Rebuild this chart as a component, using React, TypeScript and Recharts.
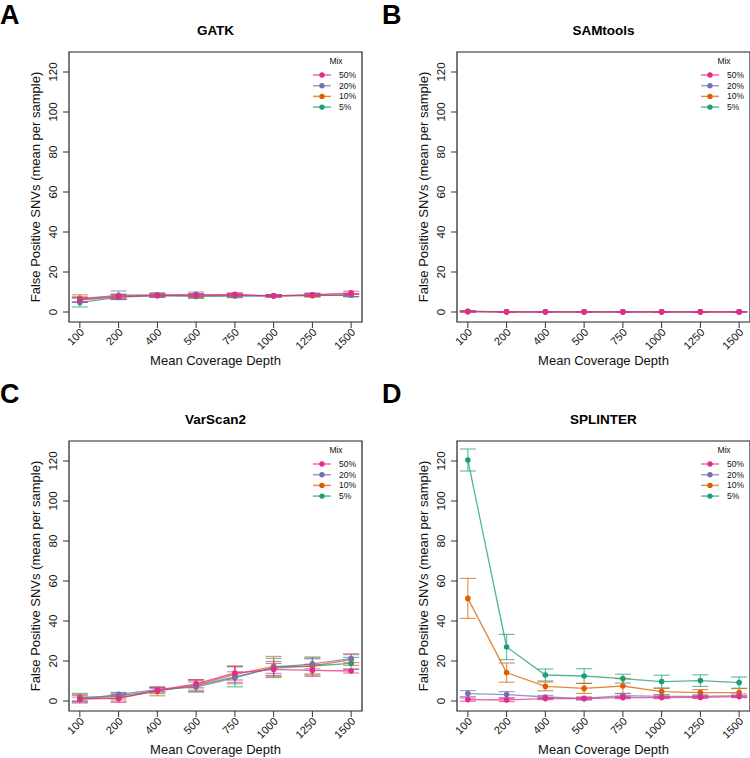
import React from "react";
import {
  ErrorBar,
  Legend,
  Line,
  LineChart,
  ReferenceArea,
  XAxis,
  YAxis,
} from "recharts";

// coverage depths on the x axis
const depths = ["100", "200", "400", "500", "750", "1000", "1250", "1500"];
const yTicks = [0, 20, 40, 60, 80, 100, 120];

// GATK
const gatk50 = [6.0, 7.6, 8.3, 8.3, 8.8, 8.1, 8.6, 9.6];
const gatk20 = [6.3, 8.4, 8.6, 8.8, 8.3, 8.1, 8.6, 8.4];
const gatk10 = [6.8, 8.0, 8.3, 8.1, 8.3, 8.1, 8.2, 8.4];
const gatk5 = [4.7, 7.4, 8.2, 7.8, 8.0, 8.1, 8.3, 8.4];
const gatk50Err = [1.2, 1.0, 0.8, 0.9, 0.8, 0.6, 0.7, 0.8];
const gatk20Err = [1.3, 2.1, 1.0, 1.2, 0.9, 0.6, 0.8, 0.7];
const gatk10Err = [1.8, 1.0, 0.8, 0.9, 0.8, 0.6, 0.7, 0.7];
const gatk5Err = [2.2, 1.2, 0.9, 1.0, 0.8, 0.6, 0.7, 0.7];

// SAMtools
const sam50 = [0.2, 0.1, 0.1, 0.1, 0.1, 0.1, 0.1, 0.1];
const sam20 = [0.4, 0.1, 0.1, 0.1, 0.1, 0.1, 0.1, 0.1];
const sam10 = [0.2, 0.1, 0.1, 0.1, 0.1, 0.1, 0.1, 0.1];
const sam5 = [0.3, 0.1, 0.1, 0.1, 0.1, 0.1, 0.1, 0.1];
const sam50Err = [0.2, 0.1, 0.1, 0.1, 0.1, 0.1, 0.1, 0.1];
const sam20Err = [0.3, 0.1, 0.1, 0.1, 0.1, 0.1, 0.1, 0.1];
const sam10Err = [0.2, 0.1, 0.1, 0.1, 0.1, 0.1, 0.1, 0.1];
const sam5Err = [0.2, 0.1, 0.1, 0.1, 0.1, 0.1, 0.1, 0.1];

// VarScan2
const vs50 = [1.0, 1.3, 5.4, 8.6, 14.0, 15.8, 15.3, 15.0];
const vs20 = [0.7, 3.3, 5.7, 7.0, 11.6, 16.8, 18.6, 21.2];
const vs10 = [1.5, 1.5, 4.9, 7.9, 13.3, 17.3, 17.5, 20.7];
const vs5 = [1.8, 2.5, 5.2, 7.7, 12.1, 16.5, 17.5, 18.8];
const vs50Err = [2.0, 2.0, 1.0, 2.0, 3.5, 3.0, 3.0, 1.0];
const vs20Err = [1.2, 1.0, 1.0, 2.5, 3.0, 3.0, 2.5, 2.0];
const vs10Err = [1.5, 1.5, 2.3, 2.5, 4.0, 5.0, 4.0, 2.9];
const vs5Err = [2.0, 1.5, 1.5, 3.0, 5.0, 4.8, 4.5, 3.0];

// SPLINTER
const spl50 = [0.7, 0.5, 1.2, 1.2, 1.7, 1.7, 1.8, 2.2];
const spl20 = [3.7, 3.2, 2.0, 1.3, 2.7, 2.3, 2.3, 2.7];
const spl10 = [51.3, 14.2, 7.3, 6.3, 7.5, 4.7, 4.2, 4.2];
const spl5 = [120.5, 27.0, 13.0, 12.5, 11.2, 9.7, 10.2, 9.2];
const spl50Err = [0.8, 0.8, 0.5, 0.5, 0.5, 0.5, 0.5, 0.5];
const spl20Err = [1.5, 1.5, 0.8, 0.8, 1.0, 0.8, 0.8, 0.8];
const spl10Err = [10.0, 4.8, 2.2, 2.5, 3.7, 1.6, 1.5, 2.0];
const spl5Err = [5.5, 6.3, 3.0, 3.7, 2.2, 3.2, 2.9, 2.8];

// legend order (top to bottom); drawn in reverse so pink ends up on top
const mixes = [
  { key: "m50", label: "50%", color: "#E7298A" },
  { key: "m20", label: "20%", color: "#7570B3" },
  { key: "m10", label: "10%", color: "#D95F02" },
  { key: "m5", label: "5%", color: "#1B9E77" },
];

const FONT = '"Liberation Sans", Arial, Helvetica, sans-serif';
const PANEL_W = 388;
const PANEL_H = 389;
const PLOT_TOP = 52;
const PLOT_BOTTOM = 322;
const PLOT_LEFT = 69;
const PLOT_RIGHT = 362;

function buildRows(vals: number[][], errs: number[][]) {
  return depths.map((_, i) => ({
    x: i + 1,
    m50: vals[0][i],
    m20: vals[1][i],
    m10: vals[2][i],
    m5: vals[3][i],
    m50Err: errs[0][i],
    m20Err: errs[1][i],
    m10Err: errs[2][i],
    m5Err: errs[3][i],
  }));
}

const panels = [
  {
    letter: "A",
    title: "GATK",
    left: 0,
    top: 0,
    letterTop: 1.5,
    data: buildRows([gatk50, gatk20, gatk10, gatk5], [gatk50Err, gatk20Err, gatk10Err, gatk5Err]),
  },
  {
    letter: "B",
    title: "SAMtools",
    left: 388,
    top: 0,
    letterTop: 1.5,
    data: buildRows([sam50, sam20, sam10, sam5], [sam50Err, sam20Err, sam10Err, sam5Err]),
  },
  {
    letter: "C",
    title: "VarScan2",
    left: 0,
    top: 389,
    letterTop: -8,
    data: buildRows([vs50, vs20, vs10, vs5], [vs50Err, vs20Err, vs10Err, vs5Err]),
  },
  {
    letter: "D",
    title: "SPLINTER",
    left: 388,
    top: 389,
    letterTop: -8,
    data: buildRows([spl50, spl20, spl10, spl5], [spl50Err, spl20Err, spl10Err, spl5Err]),
  },
];

const XTick = (props: any) => {
  const { x, payload } = props;
  const ax = x + 5;
  const ay = PLOT_BOTTOM + 11;
  return (
    <text
      x={ax}
      y={ay}
      transform={`rotate(-45, ${ax}, ${ay})`}
      textAnchor="end"
      fontSize={11}
      fontFamily={FONT}
      fill="#111"
    >
      {depths[payload.value - 1]}
    </text>
  );
};

const YTick = (props: any) => {
  const { y, payload } = props;
  const ax = 56.5;
  return (
    <text
      x={ax}
      y={y}
      transform={`rotate(-90, ${ax}, ${y})`}
      textAnchor="middle"
      fontSize={11.5}
      fontFamily={FONT}
      fill="#111"
    >
      {payload.value}
    </text>
  );
};

function MixLegend() {
  const rowY = [23, 33.7, 44.4, 55.1];
  return (
    <svg width={66} height={64} style={{ display: "block" }}>
      <text x={36} y={12} textAnchor="middle" fontSize={8.5} fontFamily={FONT} fill="#111">
        Mix
      </text>
      {mixes.map((m, i) => (
        <g key={m.key}>
          <line x1={13} x2={31} y1={rowY[i]} y2={rowY[i]} stroke={m.color} strokeOpacity={0.7} strokeWidth={1.5} />
          <circle cx={22} cy={rowY[i]} r={2.7} fill={m.color} />
          <text x={39} y={rowY[i] + 3} fontSize={8.5} fontFamily={FONT} fill="#111">
            {m.label}
          </text>
        </g>
      ))}
    </svg>
  );
}

function Panel({ panel }: { panel: (typeof panels)[number] }) {
  return (
    <div style={{ position: "absolute", left: panel.left, top: panel.top, width: PANEL_W, height: PANEL_H }}>
      <div
        style={{
          position: "absolute",
          left: panel.left ? -6 : 0,
          top: panel.letterTop,
          fontSize: 27,
          lineHeight: 1,
          fontWeight: 700,
          fontFamily: FONT,
        }}
      >
        {panel.letter}
      </div>
      <div
        style={{
          position: "absolute",
          left: PLOT_LEFT,
          width: PLOT_RIGHT - PLOT_LEFT,
          top: 24,
          textAlign: "center",
          fontSize: 13.5,
          lineHeight: 1,
          fontWeight: 700,
          fontFamily: FONT,
        }}
      >
        {panel.title}
      </div>
      <LineChart
        width={PANEL_W}
        height={PANEL_H}
        data={panel.data}
        margin={{ top: PLOT_TOP, right: PANEL_W - PLOT_RIGHT, bottom: 0, left: 0 }}
      >
        <XAxis
          type="number"
          dataKey="x"
          domain={[0.72, 8.28]}
          ticks={[1, 2, 3, 4, 5, 6, 7, 8]}
          allowDataOverflow
          axisLine={false}
          tickSize={6}
          tickLine={{ stroke: "#333" }}
          height={PANEL_H - PLOT_BOTTOM}
          tick={<XTick />}
          interval={0}
          label={{
            content: () => (
              <text
                x={(PLOT_LEFT + PLOT_RIGHT) / 2}
                y={PLOT_BOTTOM + 43}
                textAnchor="middle"
                fontSize={13}
                fontFamily={FONT}
                fill="#111"
              >
                Mean Coverage Depth
              </text>
            ),
          }}
        />
        <YAxis
          type="number"
          domain={[-5, 130]}
          ticks={yTicks}
          allowDataOverflow
          axisLine={false}
          tickSize={6}
          tickLine={{ stroke: "#333" }}
          width={PLOT_LEFT}
          tick={<YTick />}
          interval={0}
          label={{
            content: () => {
              const cy = (PLOT_TOP + PLOT_BOTTOM) / 2;
              return (
                <text
                  x={40}
                  y={cy}
                  transform={`rotate(-90, 40, ${cy})`}
                  textAnchor="middle"
                  fontSize={13}
                  fontFamily={FONT}
                  fill="#111"
                >
                  False Positive SNVs (mean per sample)
                </text>
              );
            },
          }}
        />
        <ReferenceArea
          x1={0.72}
          x2={8.28}
          y1={-5}
          y2={130}
          fill="none"
          fillOpacity={0}
          stroke="#222"
          strokeWidth={1.2}
          ifOverflow="visible"
        />
        {[...mixes].reverse().map((m) => (
          <Line
            key={m.key}
            type="linear"
            dataKey={m.key}
            stroke={m.color}
            strokeOpacity={0.75}
            strokeWidth={1.3}
            dot={{ r: 2.8, fill: m.color, stroke: m.color, strokeWidth: 0 }}
            activeDot={false}
            isAnimationActive={false}
          >
            <ErrorBar
              dataKey={`${m.key}Err`}
              direction="y"
              width={8}
              stroke={m.color}
              strokeOpacity={0.65}
              strokeWidth={1.2}
              isAnimationActive={false}
            />
          </Line>
        ))}
        <Legend
          layout="horizontal"
          verticalAlign="middle"
          align="center"
          wrapperStyle={{ left: 300, top: 52, width: 66, height: 64 }}
          content={() => <MixLegend />}
        />
      </LineChart>
    </div>
  );
}

export default function App() {
  return (
    <div
      style={{
        position: "fixed",
        left: 0,
        top: 0,
        width: 750,
        height: 758,
        overflow: "hidden",
        background: "#fff",
        fontFamily: FONT,
      }}
    >
      {panels.map((p) => (
        <Panel key={p.letter} panel={p} />
      ))}
    </div>
  );
}
